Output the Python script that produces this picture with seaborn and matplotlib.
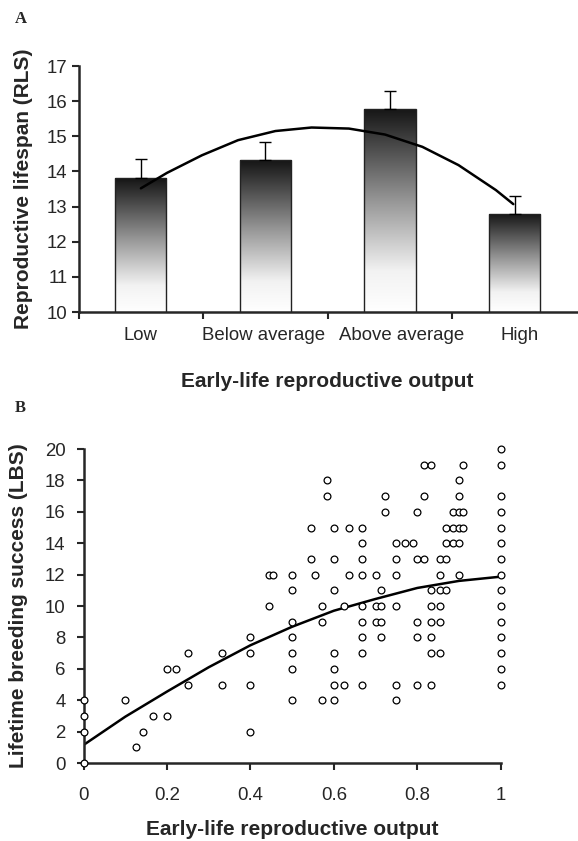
import numpy as np
import matplotlib
matplotlib.use('Agg')
import matplotlib.pyplot as plt
import matplotlib.transforms as mtransforms
import seaborn as sns
from matplotlib.colors import LinearSegmentedColormap

# Panel A: reproductive lifespan by early-life output class
categories = ['Low', 'Below average', 'Above average', 'High']
rls_mean = [13.80, 14.32, 15.78, 12.79]
rls_se = [0.55, 0.51, 0.52, 0.51]

# fitted trend in A (x in category positions)
trend_a_x = [0.0, 0.21, 0.49, 0.78, 1.08, 1.37, 1.67, 1.96, 2.26, 2.55, 2.85, 2.99]
trend_a_y = [13.52, 13.96, 14.46, 14.89, 15.15, 15.25, 15.22, 15.05, 14.70, 14.18, 13.47, 13.07]

# Panel B: one point per female (x = early-life output, y = LBS)
early_output = [
    0, 0, 0, 0,
    0.1, 0.125, 0.143, 0.167,
    0.2, 0.2, 0.222,
    0.25, 0.25, 0.333, 0.333,
    0.4, 0.4, 0.4, 0.4,
    0.444, 0.444, 0.455,
    0.5, 0.5, 0.5, 0.5, 0.5, 0.5, 0.5,
    0.545, 0.545, 0.556,
    0.571, 0.571, 0.571,
    0.583, 0.583,
    0.6, 0.6, 0.6, 0.6, 0.6, 0.6, 0.6,
    0.625, 0.625, 0.636, 0.636,
    0.667, 0.667, 0.667, 0.667, 0.667, 0.667, 0.667, 0.667, 0.667,
    0.7, 0.7, 0.7,
    0.714, 0.714, 0.714, 0.714,
    0.722, 0.722,
    0.75, 0.75, 0.75, 0.75, 0.75, 0.75,
    0.77, 0.79,
    0.8, 0.8, 0.8, 0.8, 0.8,
    0.815, 0.815, 0.815,
    0.833, 0.833, 0.833, 0.833, 0.833, 0.833, 0.833,
    0.855, 0.855, 0.855, 0.855, 0.855, 0.855,
    0.87, 0.87, 0.87, 0.87,
    0.885, 0.885, 0.885,
    0.9, 0.9, 0.9, 0.9, 0.9, 0.9,
    0.91, 0.91, 0.91,
    1, 1, 1, 1, 1, 1, 1, 1, 1, 1, 1, 1, 1, 1, 1,
]
lbs = [
    0, 2, 3, 4,
    4, 1, 2, 3,
    3, 6, 6,
    5, 7, 5, 7,
    2, 5, 7, 8,
    10, 12, 12,
    4, 6, 7, 8, 9, 11, 12,
    13, 15, 12,
    4, 9, 10,
    17, 18,
    4, 5, 6, 7, 11, 13, 15,
    5, 10, 12, 15,
    5, 7, 8, 9, 10, 12, 13, 14, 15,
    9, 10, 12,
    8, 9, 10, 11,
    16, 17,
    4, 5, 10, 12, 13, 14,
    14, 14,
    5, 8, 9, 13, 16,
    13, 17, 19,
    5, 7, 8, 9, 10, 11, 19,
    7, 9, 10, 11, 12, 13,
    11, 13, 14, 15,
    14, 15, 16,
    12, 14, 15, 16, 17, 18,
    15, 16, 19,
    5, 6, 7, 8, 9, 10, 11, 12, 13, 14, 15, 16, 17, 19, 20,
]

# fitted curve in B
trend_b_x = [0, 0.1, 0.2, 0.3, 0.4, 0.5, 0.6, 0.7, 0.8, 0.9, 1.0]
trend_b_y = [1.15, 2.95, 4.55, 6.1, 7.5, 8.68, 9.7, 10.45, 11.15, 11.6, 11.87]

sns.set_style('ticks')
plt.rcParams['font.family'] = ['Liberation Sans', 'DejaVu Sans']

fig = plt.figure(figsize=(5.78, 8.41), dpi=100)
ax_a = fig.add_axes([0.136, 0.629, 0.862, 0.2925])
ax_b = fig.add_axes([0.1445, 0.0927, 0.7218, 0.3734])

# ---- panel A ----
sns.barplot(x=categories, y=rls_mean, color='white', edgecolor='#222222',
            linewidth=1, width=0.41, errorbar=None, ax=ax_a)

# dark-to-white vertical gradient inside each bar
bar_cmap = LinearSegmentedColormap.from_list(
    'bar_grad', [(0, '#ffffff'), (0.2, '#f2f2f2'), (0.55, '#959595'), (1, '#151515')])
grad = np.linspace(0, 1, 256).reshape(-1, 1)
for bar in ax_a.patches:
    x0 = bar.get_x()
    w = bar.get_width()
    top = bar.get_y() + bar.get_height()
    bar.set_facecolor('none')
    bar.set_zorder(3)
    im = ax_a.imshow(grad, cmap=bar_cmap, origin='lower', aspect='auto',
                     extent=[x0, x0 + w, 10, top], zorder=2)
    im.set_clip_path(bar)

ax_a.errorbar(range(len(categories)), rls_mean, yerr=[[0] * 4, rls_se], fmt='none',
              ecolor='black', elinewidth=1, capsize=4, capthick=1, zorder=4)
sns.lineplot(x=trend_a_x, y=trend_a_y, color='black', linewidth=1.8, ax=ax_a, zorder=5)

ax_a.set_xlim(-0.5, 3.5)
ax_a.set_ylim(10, 17)
ax_a.set_yticks(range(10, 18))
ax_a.set_xticks(range(4))
ax_a.set_xticklabels(categories)
ax_a.set_xticks([-0.5, 0.5, 1.5, 2.5], minor=True)
ax_a.tick_params(axis='x', which='major', length=0, pad=11, labelsize=13.4)
ax_a.tick_params(axis='x', which='minor', length=5, width=1.5, direction='out')
ax_a.tick_params(axis='y', length=5, width=1.5, pad=3, labelsize=13.4)
ax_a.set_xlabel('Early-life reproductive output', fontsize=15, fontweight='bold', labelpad=20)
ax_a.set_ylabel('Reproductive lifespan (RLS)', fontsize=15, fontweight='bold', labelpad=10)
sns.despine(ax=ax_a)
for s in ['left', 'bottom']:
    ax_a.spines[s].set_linewidth(1.8)

# the last two category labels sit a little right of their bars in the original
for lab, dx in zip(ax_a.get_xticklabels(), [0, -2, 12, 5]):
    lab.set_transform(lab.get_transform() + mtransforms.ScaledTranslation(dx / 100, 0, fig.dpi_scale_trans))

# ---- panel B ----
sns.lineplot(x=trend_b_x, y=trend_b_y, color='black', linewidth=1.8, ax=ax_b, zorder=2)
sns.scatterplot(x=early_output, y=lbs, marker='o', s=24, color='white',
                edgecolor='black', linewidth=0.9, clip_on=False, zorder=4, ax=ax_b)
ax_b.set_xlim(0, 1)
ax_b.set_ylim(0, 20)
ax_b.set_xticks([0, 0.2, 0.4, 0.6, 0.8, 1])
ax_b.set_xticklabels(['0', '0.2', '0.4', '0.6', '0.8', '1'])
ax_b.set_yticks(range(0, 21, 2))
ax_b.tick_params(axis='x', length=5, width=1.5, pad=12, labelsize=13.4)
ax_b.tick_params(axis='y', length=5, width=1.5, pad=8, labelsize=13.4)
ax_b.set_xlabel('Early-life reproductive output', fontsize=15, fontweight='bold', labelpad=12)
ax_b.set_ylabel('Lifetime breeding success (LBS)', fontsize=15, fontweight='bold', labelpad=12)
sns.despine(ax=ax_b)
for s in ['left', 'bottom']:
    ax_b.spines[s].set_linewidth(1.8)

fig.text(0.025, 0.978, 'A', fontsize=12, fontweight='bold', family='Liberation Serif', va='center')
fig.text(0.025, 0.515, 'B', fontsize=12, fontweight='bold', family='Liberation Serif', va='center')

fig.savefig('out.png', dpi=100)
